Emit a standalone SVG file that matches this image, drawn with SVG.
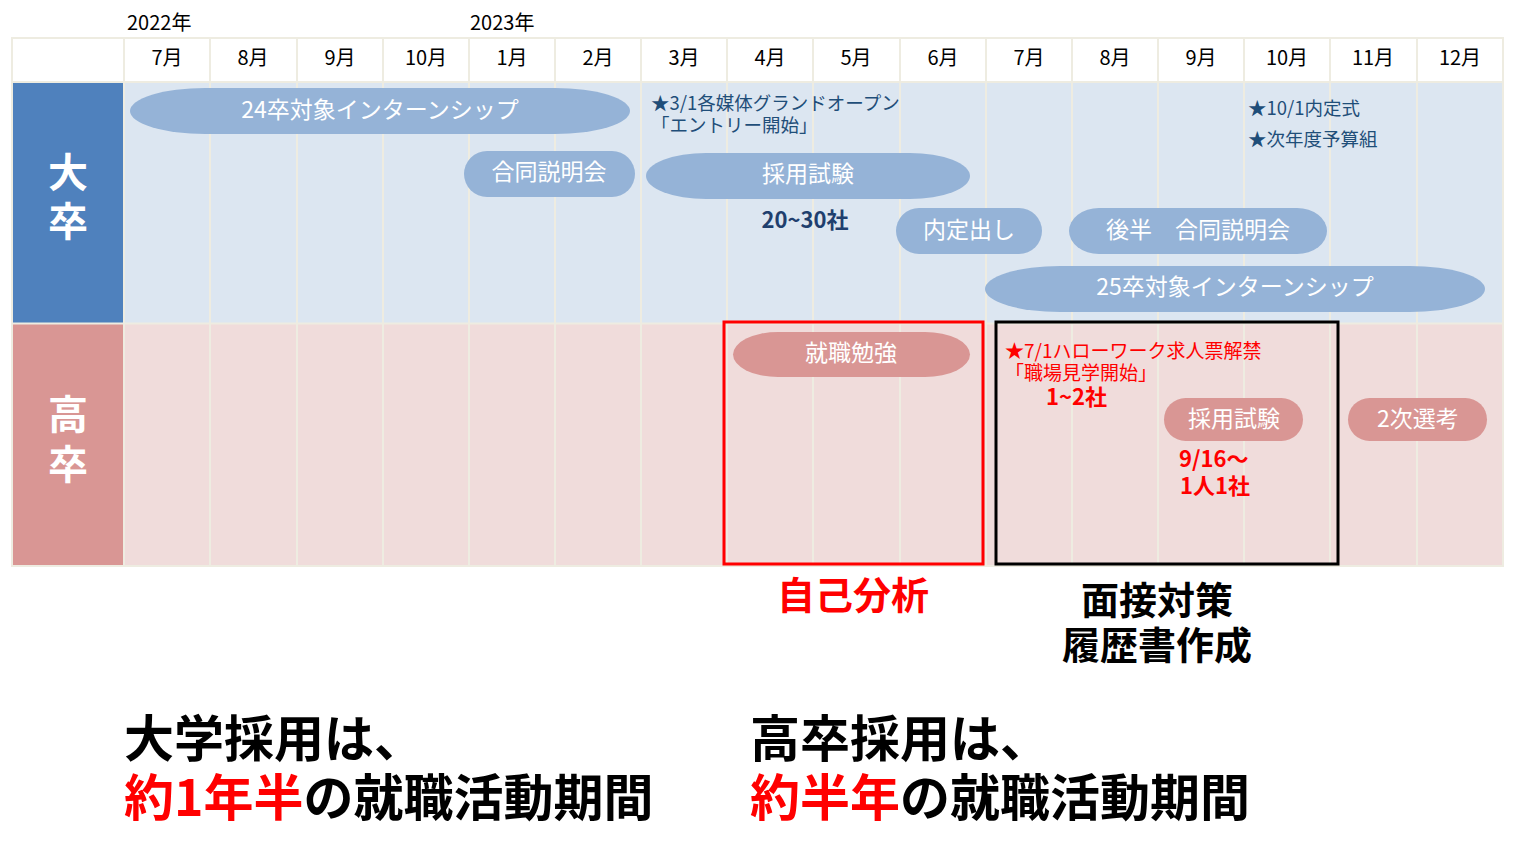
<svg xmlns="http://www.w3.org/2000/svg" width="1515" height="844" viewBox="0 0 1515 844">
<style>
.f{font-family:"Noto Sans CJK JP","Noto Sans",sans-serif}
.mon{font-size:20px;fill:#000;text-anchor:middle}
.yr{font-size:20px;fill:#000}
.lbl{font-size:40px;font-weight:bold;fill:#fff;text-anchor:middle}
.pb{fill:#95B3D7}
.pr{fill:#D99694}
.pt{font-size:23px;fill:#fff;text-anchor:middle}
.nv{font-size:18.5px;fill:#1F4E79}
.nvb{font-size:22px;font-weight:bold;fill:#1F3F6E}
.rd{font-size:19px;fill:#FF0000}
.rdb{font-size:22px;font-weight:bold;fill:#FF0000}
.big{font-size:50px;font-weight:bold}
.mid{font-size:38px;font-weight:bold;text-anchor:middle}
.grid{stroke:#EEECE1;stroke-width:2;fill:none}
</style>
<rect width="1515" height="844" fill="#fff"/>
<g id="table">
<rect x="12" y="38" width="1491" height="44" fill="#fff"/>
<rect x="124" y="82" width="1379" height="241" fill="#DCE6F1"/>
<rect x="124" y="324" width="1379" height="241" fill="#F0DCDB"/>
<rect x="13" y="82" width="111" height="241" fill="#4F81BD"/>
<rect x="13" y="324" width="111" height="241" fill="#D99694"/>
<g class="grid">
<rect x="12" y="38" width="1491" height="528"/>
<line x1="12" y1="82" x2="1503" y2="82"/>
<line x1="12" y1="323.5" x2="1503" y2="323.5"/>
<line x1="124" y1="38" x2="124" y2="566"/>
<line x1="210" y1="38" x2="210" y2="566"/>
<line x1="297" y1="38" x2="297" y2="566"/>
<line x1="383" y1="38" x2="383" y2="566"/>
<line x1="469" y1="38" x2="469" y2="566"/>
<line x1="555" y1="38" x2="555" y2="566"/>
<line x1="641" y1="38" x2="641" y2="566"/>
<line x1="727" y1="38" x2="727" y2="566"/>
<line x1="813" y1="38" x2="813" y2="566"/>
<line x1="900" y1="38" x2="900" y2="566"/>
<line x1="986" y1="38" x2="986" y2="566"/>
<line x1="1072" y1="38" x2="1072" y2="566"/>
<line x1="1158" y1="38" x2="1158" y2="566"/>
<line x1="1244" y1="38" x2="1244" y2="566"/>
<line x1="1330" y1="38" x2="1330" y2="566"/>
<line x1="1417" y1="38" x2="1417" y2="566"/>
</g>
<g class="f">
<text class="yr" x="127" y="30">2022年</text>
<text class="yr" x="470" y="30">2023年</text>
<text class="mon" x="167" y="65">7月</text>
<text class="mon" x="253" y="65">8月</text>
<text class="mon" x="340" y="65">9月</text>
<text class="mon" x="426" y="65">10月</text>
<text class="mon" x="512" y="65">1月</text>
<text class="mon" x="598" y="65">2月</text>
<text class="mon" x="684" y="65">3月</text>
<text class="mon" x="770" y="65">4月</text>
<text class="mon" x="856" y="65">5月</text>
<text class="mon" x="943" y="65">6月</text>
<text class="mon" x="1029" y="65">7月</text>
<text class="mon" x="1115" y="65">8月</text>
<text class="mon" x="1201" y="65">9月</text>
<text class="mon" x="1287" y="65">10月</text>
<text class="mon" x="1373" y="65">11月</text>
<text class="mon" x="1460" y="65">12月</text>
<text class="lbl" x="68" y="187">大</text>
<text class="lbl" x="68" y="236">卒</text>
<text class="lbl" x="68" y="429">高</text>
<text class="lbl" x="68" y="479">卒</text>
</g>
</g>
<g id="daisotsu" class="f">
<g id="n-intern24"><rect class="pb" x="130" y="88" width="500" height="46" rx="75" ry="23"/><text class="pt" x="380" y="118">24卒対象インターンシップ</text></g>
<g id="n-goudou"><rect class="pb" x="464" y="151" width="171" height="46" rx="23"/><text class="pt" x="549" y="180">合同説明会</text></g>
<g id="n-saiyou"><rect class="pb" x="646" y="153" width="324" height="46" rx="60" ry="23"/><text class="pt" x="808" y="182">採用試験</text></g>
<g id="n-naitei"><rect class="pb" x="896" y="208" width="146" height="46" rx="23"/><text class="pt" x="969" y="238">内定出し</text></g>
<g id="n-kouhan"><rect class="pb" x="1069" y="208" width="258" height="46" rx="30" ry="23"/><text class="pt" x="1198" y="238" xml:space="preserve">後半　合同説明会</text></g>
<g id="n-intern25"><rect class="pb" x="985" y="266" width="500" height="46" rx="75" ry="23"/><text class="pt" x="1235" y="295">25卒対象インターンシップ</text></g>
<g id="n-note1"><text class="nv" x="651" y="110">★3/1各媒体グランドオープン</text><text class="nv" x="651" y="132">「エントリー開始」</text></g>
<g id="n-note2"><text class="nvb" x="805" y="228" text-anchor="middle">20~30社</text></g>
<g id="n-note3"><text class="nv" x="1248" y="115">★10/1内定式</text><text class="nv" x="1248" y="146">★次年度予算組</text></g>
</g>
<g id="kousotsu" class="f">
<g id="n-redbox"><rect x="724" y="322" width="259" height="242" fill="none" stroke="#FF0000" stroke-width="3"/></g>
<g id="n-blackbox"><rect x="996" y="322" width="342" height="242" fill="none" stroke="#000" stroke-width="3"/></g>
<g id="n-benkyou"><rect class="pr" x="733" y="332" width="237" height="45" rx="45" ry="22.5"/><text class="pt" x="851" y="361">就職勉強</text></g>
<g id="n-saiyou2"><rect class="pr" x="1164" y="398" width="139" height="43" rx="21.5"/><text class="pt" x="1234" y="427">採用試験</text></g>
<g id="n-niji"><rect class="pr" x="1348" y="398" width="139" height="43" rx="21.5"/><text class="pt" x="1418" y="427">2次選考</text></g>
<g id="n-note4"><text class="rd" x="1005" y="358">★7/1ハローワーク求人票解禁</text><text class="rd" x="1005" y="380">「職場見学開始」</text></g>
<g id="n-note5"><text class="rdb" x="1046" y="405">1~2社</text></g>
<g id="n-note6"><text class="rdb" x="1179" y="467">9/16～</text><text class="rdb" x="1180" y="494">1人1社</text></g>
</g>
<g id="bottom" class="f">
<g id="n-jiko"><text class="mid" x="853" y="609" fill="#FF0000">自己分析</text></g>
<g id="n-mensetsu"><text class="mid" x="1157" y="614" fill="#000">面接対策</text><text class="mid" x="1157" y="659" fill="#000">履歴書作成</text></g>
<g id="n-sum1"><text class="big" x="124" y="757" fill="#000">大学採用は、</text><text class="big" x="124" y="816"><tspan fill="#FF0000">約1年半</tspan><tspan fill="#000">の就職活動期間</tspan></text></g>
<g id="n-sum2"><text class="big" x="750" y="757" fill="#000">高卒採用は、</text><text class="big" x="750" y="816"><tspan fill="#FF0000">約半年</tspan><tspan fill="#000">の就職活動期間</tspan></text></g>
</g>
</svg>
